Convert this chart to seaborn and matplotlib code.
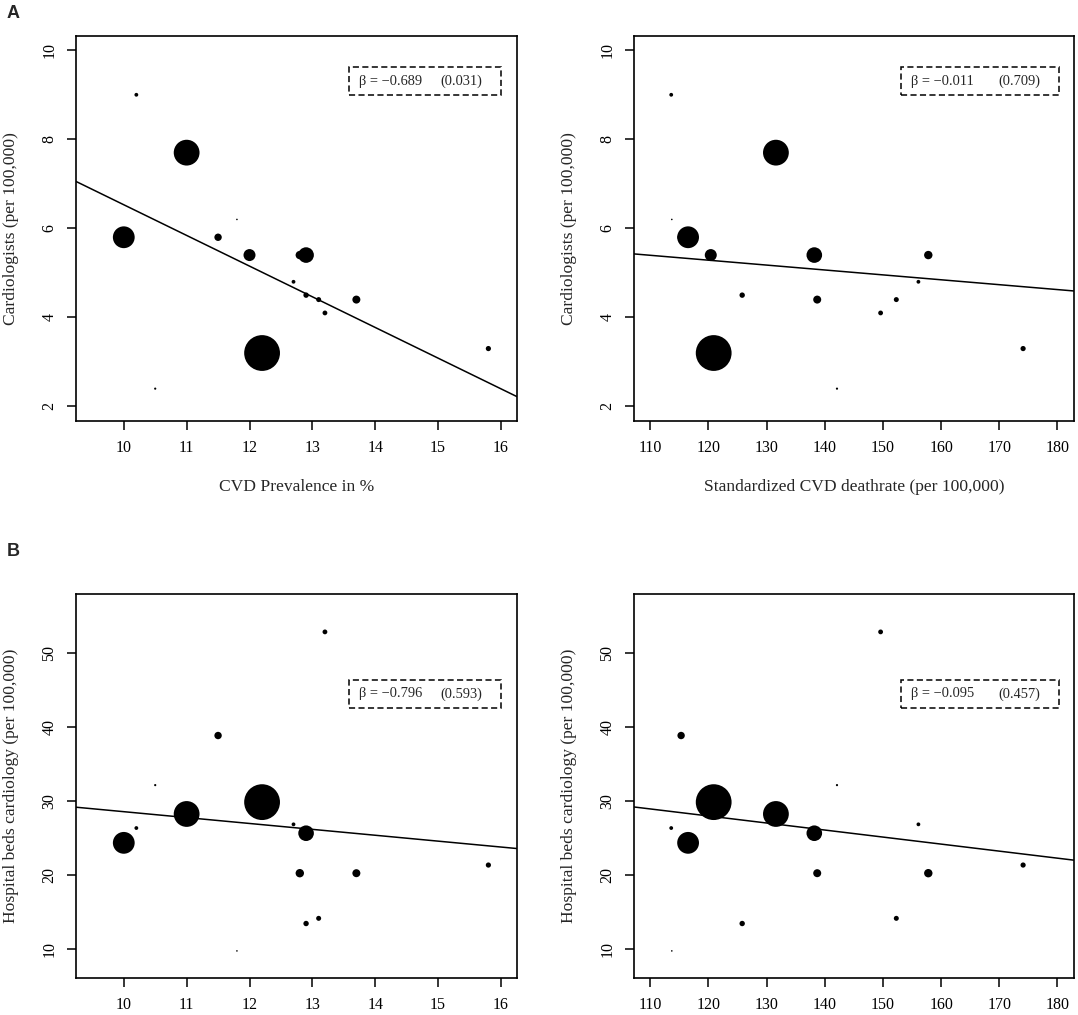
import numpy as np
import pandas as pd
import seaborn as sns
import matplotlib.pyplot as plt
from matplotlib.patches import Rectangle

# one entry per region (16)
prevalence = [12.2, 11.0, 10.0, 12.9, 12.0, 12.8, 13.7, 11.5, 12.9, 13.1, 15.8, 13.2, 12.7, 10.2, 10.5, 11.8]
deathrate = [120.9, 131.6, 116.5, 138.2, 120.4, 157.8, 138.7, 115.3, 125.8, 152.3, 174.1, 149.6, 156.1, 113.6, 142.1, 113.7]
cardiologists = [3.2, 7.7, 5.8, 5.4, 5.4, 5.4, 4.4, 5.8, 4.5, 4.4, 3.3, 4.1, 4.8, 9.0, 2.4, 6.2]
beds = [29.8, 28.2, 24.3, 25.6, np.nan, 20.2, 20.2, 38.8, 13.4, 14.1, 21.3, 52.8, 26.8, 26.3, 32.1, 9.7]
population = [17.9, 12.9, 10.9, 7.8, 6.0, 4.2, 4.0, 3.7, 2.7, 2.5, 2.6, 2.4, 1.9, 1.9, 1.1, 0.8]

# regression results shown in each panel (TL, TR, BL, BR)
betas = [-0.689, -0.011, -0.796, -0.095]
pvals = [0.031, 0.709, 0.593, 0.457]
intercepts = [13.42, 6.605, 36.47, 39.33]

df = pd.DataFrame({"prev": prevalence, "death": deathrate, "card": cardiologists,
                   "beds": beds, "pop": population})
df["s"] = (1.44 * df["pop"]) ** 2
smin, smax = df["s"].min(), df["s"].max()

sns.set_style("ticks")
plt.rcParams["font.family"] = ["Liberation Serif", "DejaVu Serif"]
plt.rcParams["axes.edgecolor"] = "black"
plt.rcParams["axes.linewidth"] = 1.2

fig = plt.figure(figsize=(10.78, 10.15), dpi=100)

W, H = 1078, 1015
panels = [
    # x, y, xlabel, ylabel, left px, width px, top px, height px, xlim, ylim, xticks, yticks, box y, box x
    ("prev", "card", "CVD Prevalence in %", "Cardiologists (per 100,000)", 76, 441.3, 36, 384.7,
     (9.24, 16.26), (1.68, 10.32), range(10, 17), range(2, 11, 2), (0.8466, 0.9186), (0.619, 0.963)),
    ("death", "card", "Standardized CVD deathrate (per 100,000)", "Cardiologists (per 100,000)", 634, 439.7, 36, 384.7,
     (107.2, 182.8), (1.68, 10.32), range(110, 181, 10), range(2, 11, 2), (0.8466, 0.9186), (0.6066, 0.9666)),
    ("prev", "beds", "", "Hospital beds cardiology (per 100,000)", 76, 441.3, 594, 383.7,
     (9.24, 16.26), (6.08, 57.92), range(10, 17), range(10, 51, 10), (0.703, 0.776), (0.619, 0.963)),
    ("death", "beds", "", "Hospital beds cardiology (per 100,000)", 634, 439.7, 594, 383.7,
     (107.2, 182.8), (6.08, 57.92), range(110, 181, 10), range(10, 51, 10), (0.703, 0.776), (0.6066, 0.9666)),
]

for i, (xc, yc, xl, yl, lp, wp, tp, hp, xlim, ylim, xt, yt, by, bx) in enumerate(panels):
    ax = fig.add_axes([lp / W, 1 - (tp + hp) / H, wp / W, hp / H])
    d = df.dropna(subset=[xc, yc])
    sns.scatterplot(data=d, x=xc, y=yc, size="s", sizes=(smin, smax), size_norm=(smin, smax),
                    color="black", linewidth=0, legend=False, ax=ax)
    ax.axline((0, intercepts[i]), slope=betas[i], color="black", lw=1.1)
    ax.set_xlim(xlim)
    ax.set_ylim(ylim)
    ax.set_xticks(list(xt))
    ax.set_yticks(list(yt))
    ax.tick_params(axis="both", direction="out", length=6.7, width=1.1, color="black",
                   labelsize=11.5, labelcolor="black")
    ax.tick_params(axis="x", pad=7)
    ax.tick_params(axis="y", pad=6.7, labelrotation=90)
    for lab in ax.get_yticklabels():
        lab.set_va("center")
    ax.set_xlabel(xl, fontsize=12.6)
    ax.set_ylabel(yl, fontsize=12.6)
    ax.xaxis.set_label_coords(0.5, -0.151)
    ax.yaxis.set_label_coords(-0.13, 0.5)
    for sp in ax.spines.values():
        sp.set_visible(True)
        sp.set_color("black")

    # dashed box with beta and p-value
    ax.add_patch(Rectangle((bx[0], by[0]), bx[1] - bx[0], by[1] - by[0], transform=ax.transAxes,
                           fill=False, ec="black", lw=1.1, ls=(0, (4, 2.2)), clip_on=False))
    ymid = (by[0] + by[1]) / 2
    ax.text(bx[0] + 10 / wp, ymid, "β = −%.3f" % abs(betas[i]), transform=ax.transAxes,
            ha="left", va="center", fontsize=10.4)
    ax.text(bx[1] - 19 / wp, ymid, "(%.3f)" % pvals[i], transform=ax.transAxes,
            ha="right", va="center", fontsize=10.4)

fig.text(7 / W, 1 - 13 / H, "A", fontsize=13, fontweight="bold", family="Liberation Sans",
         ha="left", va="center")
fig.text(7 / W, 1 - 552 / H, "B", fontsize=13, fontweight="bold", family="Liberation Sans",
         ha="left", va="center")

fig.savefig("out.png", dpi=100)
